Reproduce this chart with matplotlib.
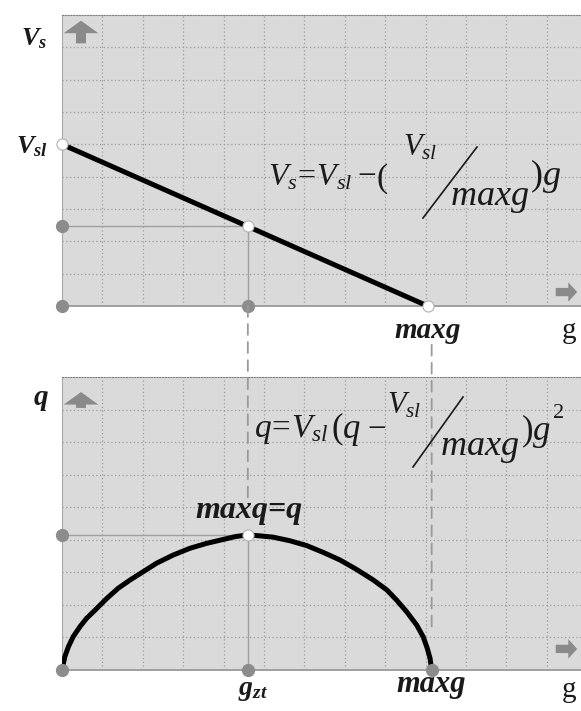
import matplotlib
matplotlib.use("Agg")
import matplotlib.pyplot as plt
from matplotlib.patches import ConnectionPatch

plt.rcParams['mathtext.fontset'] = 'custom'
plt.rcParams['mathtext.it'] = 'Liberation Serif:italic'
plt.rcParams['mathtext.rm'] = 'Liberation Serif'
plt.rcParams['mathtext.bf'] = 'Liberation Serif:italic:bold'
plt.rcParams['font.family'] = 'Liberation Serif'

# values (grid units)
vs_g = [0.0, 4.6, 9.05]
vs_val = [5.0, 2.46, 0.0]

q_g = [0.0, 0.07, 0.16, 0.28, 0.45, 0.61, 0.82, 1.11, 1.39, 1.68, 2.01, 2.34,
       2.75, 3.17, 3.58, 3.99, 4.30, 4.60, 4.90, 5.23, 5.64, 6.06, 6.47, 6.88,
       7.29, 7.71, 8.04, 8.28, 8.53, 8.78, 8.94, 9.04, 9.11, 9.15]
q_val = [0.0, 0.41, 0.72, 1.03, 1.34, 1.59, 1.84, 2.20, 2.51, 2.76, 3.02, 3.28,
         3.53, 3.74, 3.89, 4.01, 4.10, 4.15, 4.12, 4.08, 3.97, 3.82, 3.61, 3.38,
         3.09, 2.76, 2.46, 2.15, 1.79, 1.38, 1.02, 0.67, 0.36, 0.0]

g_zt = 4.6
maxg_top = 9.05
maxg_bot = 9.15
q_max = 4.15

W, H = 581, 711
BG = '#dadada'
GRID = '#9c9c9c'
DOT = '#8c8c8c'
TXT = '#1a1a1a'
BOLD = dict(fontweight='bold', fontstyle='italic', color=TXT, va='baseline')

fig = plt.figure(figsize=(W / 100, H / 100), dpi=100)


def fx(x):
    return x / W


def fy(y):
    return 1 - y / H


def make_ax(top, bottom):
    ax = fig.add_axes([fx(62), fy(bottom), (W - 62) / W, (bottom - top) / H])
    ax.set_facecolor(BG)
    ax.set_xlim(0, (W - 62) / 40.4)
    ax.set_ylim(0, 9)
    ax.set_xticks(range(1, 13))
    ax.set_yticks(range(1, 9))
    ax.tick_params(length=0, labelbottom=False, labelleft=False)
    ax.grid(True, color=GRID, linestyle=(0, (1, 2)), linewidth=0.9)
    ax.spines['right'].set_visible(False)
    ax.spines['top'].set_linestyle((0, (1, 1.5)))
    ax.spines['top'].set_color('#808080')
    ax.spines['left'].set_color('#a8a8a8')
    ax.spines['bottom'].set_color('#999999')
    ax.spines['bottom'].set_linewidth(1.3)
    return ax


def arrow(ax, start, end, hw, hl, tw):
    ax.annotate('', xy=end, xytext=start, xycoords='axes fraction',
                arrowprops=dict(arrowstyle=f'simple,head_length={hl},head_width={hw},tail_width={tw}',
                                color='#8a8a8a', mutation_scale=20, lw=0))


ax1 = make_ax(15, 306)
ax2 = make_ax(377, 670)

# ---- top panel: Vs vs g ----
ax1.plot([0, g_zt], [vs_val[1]] * 2, color='#a0a0a0', lw=1, zorder=2)
ax1.plot([g_zt, g_zt], [vs_val[1], 0], color='#a0a0a0', lw=1, zorder=2)
ax1.plot(vs_g, vs_val, color='black', lw=3.6, zorder=3, solid_capstyle='round')
ax1.plot([0, 0, g_zt], [vs_val[1], 0, 0], 'o', ms=8.5, color=DOT, zorder=4, clip_on=False)
ax1.plot(vs_g, vs_val, 'o', ms=8, mfc='white', mec='#b0b0b0', mew=0.8, zorder=5, clip_on=False)

arrow(ax1, (0.0366, 0.893), (0.0366, 0.99), 1.25, 0.45, 0.36)
arrow(ax1, (0.946, 0.048), (0.998, 0.048), 0.7, 0.32, 0.3)

ax1.text(-0.35, 8.07, r'$\mathbf{V}_\mathbf{s}$', fontsize=19, ha='right', va='baseline', color=TXT)
ax1.text(-0.35, vs_val[0] - 0.27, r'$\mathbf{V}_\mathbf{sl}$', fontsize=19, ha='right', va='baseline', color=TXT)
ax1.text(maxg_top, -0.99, 'maxg', fontsize=21, ha='center', **BOLD)
ax1.text(12.55, -0.99, 'g', fontsize=21, ha='center', va='baseline', color=TXT)

# ---- bottom panel: q vs g ----
ax2.plot([0, g_zt], [q_max] * 2, color='#a0a0a0', lw=1, zorder=2)
ax2.plot([g_zt, g_zt], [q_max, 0], color='#a0a0a0', lw=1, zorder=2)
ax2.plot(q_g, q_val, color='black', lw=3.6, zorder=3, solid_joinstyle='round')
ax2.plot([0, 0, g_zt, maxg_bot], [q_max, 0, 0, 0], 'o', ms=8.5, color=DOT, zorder=4, clip_on=False)
ax2.plot([g_zt], [q_max], 'o', ms=8, mfc='white', mec='#b0b0b0', mew=0.8, zorder=5)

arrow(ax2, (0.0366, 0.885), (0.0366, 0.958), 1.25, 0.45, 0.36)
arrow(ax2, (0.946, 0.072), (0.998, 0.072), 0.7, 0.32, 0.3)

ax2.text(-0.35, 8.14, 'q', fontsize=21, ha='right', **BOLD)
ax2.text(3.3, 4.67, 'maxq=q', fontsize=23, ha='left', **BOLD)
ax2.text(4.6 + 0.12, -0.77, r'$\mathbf{g}_\mathbf{zt}$', fontsize=20, ha='center', va='baseline', color=TXT)
ax2.text(maxg_bot, -0.68, 'maxg', fontsize=22, ha='center', **BOLD)
ax2.text(12.55, -0.83, 'g', fontsize=21, ha='center', va='baseline', color=TXT)

# dashed guides running between the panels
for xa, ya, xb, yb in [(g_zt, 0, g_zt, 5.3), (maxg_bot, -1.2, maxg_bot, 1.3)]:
    con = ConnectionPatch(xyA=(xa, ya), coordsA=ax1.transData, xyB=(xb, yb), coordsB=ax2.transData,
                          color='#9a9a9a', lw=1.3, linestyle=(0, (6, 4)), zorder=1)
    fig.add_artist(con)

# ---- equations (pieces placed in pixels) ----
top_eq = [(268, 185, r'$V_s\!=\!V_{sl}$', 23), (357, 183, r'$-$', 24), (376, 187, r'$($', 24),
          (403, 155, r'$V_{sl}$', 22), (450, 205, r'$maxg$', 26), (530, 185, r'$)g$', 26)]
bot_eq = [(254, 437, r'$q\!=\!V_{sl}$', 24), (331, 438, r'$(q$', 25), (367, 436, r'$-$', 24),
          (387, 413, r'$V_{sl}$', 22), (440, 455, r'$maxg$', 26), (521, 440, r'$)g$', 25),
          (552, 418, r'$2$', 16)]

for x, y, s, size in top_eq + bot_eq:
    fig.text(fx(x), fy(y), s, fontsize=size, ha='left', va='baseline', color=TXT)

for x0, y0, x1, y1 in [(423, 218, 477, 147), (413, 467, 463, 397)]:
    fig.add_artist(plt.Line2D([fx(x0), fx(x1)], [fy(y0), fy(y1)], color=TXT, lw=1.2))

fig.savefig('out.png', dpi=100)
